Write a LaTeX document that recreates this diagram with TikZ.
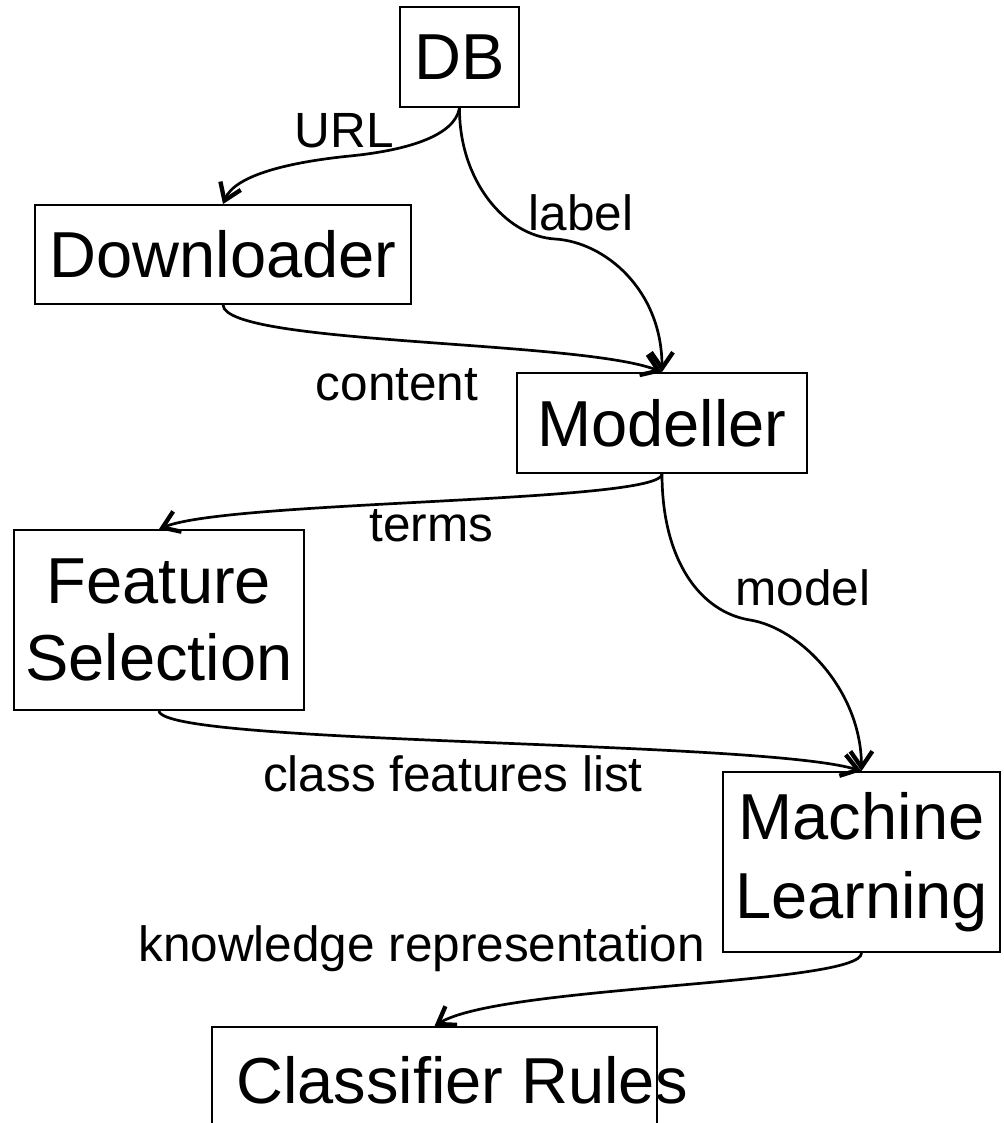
\documentclass[tikz,border=0pt]{standalone}
\usepackage{fontspec}
\setmainfont{Liberation Sans}
\usetikzlibrary{arrows.meta}
\begin{document}
\begin{tikzpicture}[x=1pt,y=-1pt,
  box/.style={draw, line width=1.9pt, inner sep=0pt, font=\fontsize{65}{77}\selectfont, align=center},
  lbl/.style={inner sep=0pt, anchor=base, font=\fontsize{49.5}{58}\selectfont},
  flow/.style={line width=2.7pt, -{Straight Barb[length=16pt,width=22pt,line width=1.6pt 1]}}]
\useasboundingbox (0,0) rectangle (1003,1123);
\clip (0,0) rectangle (1003,1123);
\node[box, minimum width=119pt, minimum height=100pt] (db) at (459.5,57) {DB};
\node[box, minimum width=376pt, minimum height=99pt] (dl) at (223,254.5) {Downloader};
\node[box, minimum width=290pt, minimum height=100pt] (mod) at (662,423) {Modeller};
\node[box, minimum width=290pt, minimum height=180pt] (fs) at (159,620) {Feature\\Selection};
\node[box, font=\fontsize{65}{79}\selectfont, minimum width=277pt, minimum height=180pt] (ml) at (861.5,862) {Machine\\Learning};
\node[box, minimum width=445pt, minimum height=100pt] (cr) at (434.5,1077) {};
\node[inner sep=0pt, anchor=base west, font=\fontsize{65}{77}\selectfont] (crt) at (236,1103) {Classifier Rules};

\draw[flow] (db.south) .. controls (455,135) and (410,150) .. (350,156)
  .. controls (290,162) and (235,175) .. (dl.north);
\draw[flow] (db.south) .. controls (459,180) and (505,236) .. (555,239)
  .. controls (605,242) and (662,290) .. (mod.north);
\draw[flow] (dl.south) .. controls (225,345) and (580,340) .. (mod.north);
\draw[flow] (mod.south) .. controls (662,503) and (230,500) .. (fs.north);
\draw[flow] (mod.south) .. controls (662,560) and (700,612) .. (750,620)
  .. controls (800,628) and (861,690) .. (ml.north);
\draw[flow] (fs.south) .. controls (163,745) and (760,740) .. (ml.north);
\draw[flow] (ml.south) .. controls (862,985) and (500,985) .. (cr.north);

\node[lbl] (lurl) at (344.5,148) {URL};
\node[lbl] (llab) at (581,230) {label};
\node[lbl] (lcon) at (397,400) {content};
\node[lbl] (lter) at (431.5,541.7) {terms};
\node[lbl] (lmod) at (802.7,605) {model};
\node[lbl] (lcfl) at (453,791) {class features list};
\node[lbl] (lkr) at (421.7,961.7) {knowledge representation};
\end{tikzpicture}
\end{document}
